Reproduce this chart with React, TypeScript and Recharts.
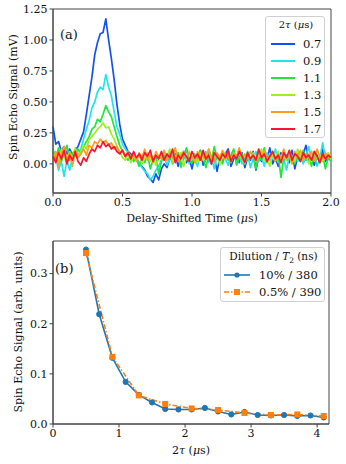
import React from "react";
import { LineChart, Line, XAxis, YAxis, ReferenceArea } from "recharts";

// panel (a): echo traces, one value every 0.02 µs from 0 to 2 µs
const TIME_US = [
  0, 0.02, 0.04, 0.06, 0.08, 0.1, 0.12, 0.14, 0.16, 0.18,
  0.2, 0.22, 0.24, 0.26, 0.28, 0.3, 0.32, 0.34, 0.36, 0.38,
  0.4, 0.42, 0.44, 0.46, 0.48, 0.5, 0.52, 0.54, 0.56, 0.58,
  0.6, 0.62, 0.64, 0.66, 0.68, 0.7, 0.72, 0.74, 0.76, 0.78,
  0.8, 0.82, 0.84, 0.86, 0.88, 0.9, 0.92, 0.94, 0.96, 0.98,
  1.0, 1.02, 1.04, 1.06, 1.08, 1.1, 1.12, 1.14, 1.16, 1.18,
  1.2, 1.22, 1.24, 1.26, 1.28, 1.3, 1.32, 1.34, 1.36, 1.38,
  1.4, 1.42, 1.44, 1.46, 1.48, 1.5, 1.52, 1.54, 1.56, 1.58,
  1.6, 1.62, 1.64, 1.66, 1.68, 1.7, 1.72, 1.74, 1.76, 1.78,
  1.8, 1.82, 1.84, 1.86, 1.88, 1.9, 1.92, 1.94, 1.96, 1.98,
  2.0,
];

const ECHO_07 = [
  0.3, 0.16, 0.18, 0.1, 0.14, 0.08, 0.12, 0.07, 0.11, 0.14,
  0.2, 0.26, 0.4, 0.55, 0.7, 0.88, 0.98, 1.05, 1.06, 1.17,
  1.0, 0.85, 0.68, 0.48, 0.32, 0.2, 0.15, 0.1, 0.08, 0.04,
  0.05, 0.0, -0.02, -0.05, -0.1, -0.12, -0.15, -0.08, -0.13, -0.04,
  0.0, -0.03, 0.05, 0.02, 0.08, -0.02, 0.06, 0.1, 0.01, 0.05,
  -0.04, 0.07, 0.03, 0.11, -0.01, 0.04, 0.09, 0.0, 0.06, -0.06,
  0.05, 0.02, 0.08, 0.12, -0.02, 0.04, 0.07, 0.01, 0.09, -0.03,
  0.05, 0.03, 0.1, -0.05, 0.06, 0.02, 0.08, 0.04, 0.13, 0.0,
  0.05, -0.02, 0.09, 0.03, 0.07, 0.01, 0.11, -0.04, 0.06, 0.02,
  0.08, 0.15, 0.03, 0.05, -0.01, 0.07, 0.04, 0.12, 0.02, 0.06,
  0.04,
];

const ECHO_09 = [
  0.12, 0.05, -0.05, 0.02, -0.1, 0.03, -0.05, 0.05, 0.1, 0.06,
  0.12, 0.2, 0.28, 0.35, 0.45, 0.5, 0.58, 0.62, 0.6, 0.72,
  0.62, 0.55, 0.42, 0.3, 0.24, 0.16, 0.12, 0.09, 0.06, 0.03,
  0.05, 0.01, -0.03, -0.06, -0.08, -0.13, -0.1, -0.05, -0.02, 0.03,
  0.06, -0.01, 0.04, 0.09, 0.02, 0.07, -0.03, 0.05, 0.11, 0.0,
  0.06, 0.03, -0.02, 0.08, 0.04, 0.1, 0.01, 0.06, -0.04, 0.07,
  0.02, 0.09, 0.04, -0.01, 0.06, 0.11, 0.03, 0.07, 0.0, 0.05,
  0.08, -0.03, 0.04, 0.1, 0.02, 0.06, -0.02, 0.09, 0.03, 0.05,
  0.12, 0.01, 0.07, 0.04, -0.05, 0.06, 0.03, 0.1, 0.02, 0.07,
  0.0, 0.06, 0.14, 0.03, 0.08, -0.02, 0.05, 0.17, 0.04, 0.06,
  0.03,
];

const ECHO_11 = [
  0.1, 0.04, 0.13, 0.02, 0.08, 0.15, 0.03, 0.09, 0.06, 0.12,
  0.08, 0.14, 0.18, 0.22, 0.28, 0.3, 0.36, 0.34, 0.4, 0.47,
  0.42, 0.38, 0.3, 0.22, 0.15, 0.1, 0.06, 0.03, 0.07, 0.02,
  0.04, -0.02, 0.05, 0.01, 0.08, -0.04, 0.03, 0.06, -0.08, 0.02,
  0.07, 0.03, 0.1, 0.0, 0.05, 0.09, -0.02, 0.06, 0.13, 0.04,
  0.01, 0.08, 0.03, 0.11, 0.05, -0.03, 0.07, 0.02, 0.14, 0.04,
  0.06, 0.0, 0.09, 0.03, 0.07, 0.12, -0.01, 0.05, 0.08, 0.02,
  0.1, 0.04, 0.06, -0.04, 0.07, 0.03, 0.13, 0.01, 0.06, 0.09,
  0.02, 0.08, -0.11, 0.05, 0.03, 0.1, 0.06, 0.0, 0.08, 0.04,
  0.11, 0.03, 0.06, -0.02, 0.09, 0.05, 0.01, 0.07, -0.04, 0.05,
  0.02,
];

const ECHO_13 = [
  0.05, 0.09, 0.02, 0.12, 0.06, 0.0, 0.1, 0.04, 0.13, 0.07,
  0.1, 0.15, 0.12, 0.2, 0.22, 0.25, 0.28, 0.3, 0.33, 0.29,
  0.3, 0.24, 0.2, 0.14, 0.1, 0.05, 0.03, 0.08, 0.01, 0.06,
  0.03, 0.07, 0.0, 0.05, 0.09, 0.02, 0.06, -0.01, 0.04, 0.08,
  0.03, 0.06, 0.12, 0.01, 0.07, 0.04, 0.09, -0.02, 0.05, 0.1,
  0.04, 0.07, 0.01, 0.09, 0.03, 0.06, 0.12, 0.02, 0.05, 0.08,
  -0.01, 0.06, 0.04, 0.1, 0.02, 0.07, 0.05, 0.11, 0.03, 0.0,
  0.07, 0.04, 0.09, 0.02, 0.06, 0.12, 0.03, 0.05, -0.02, 0.08,
  0.04, 0.1, 0.01, 0.06, 0.03, 0.09, 0.05, 0.02, 0.12, 0.06,
  0.03, 0.08, 0.0, 0.06, 0.1, 0.04, 0.07, 0.02, 0.05, 0.09,
  0.04,
];

const ECHO_15 = [
  0.02, 0.1, -0.03, 0.08, 0.14, 0.03, 0.09, -0.02, 0.11, 0.05,
  0.08, 0.12, 0.07, 0.15, 0.13, 0.18, 0.16, 0.2, 0.17, 0.19,
  0.15, 0.17, 0.12, 0.14, 0.09, 0.11, 0.06, 0.1, 0.04, 0.08,
  0.02, 0.09, 0.05, 0.12, 0.03, 0.07, 0.01, 0.1, 0.06, 0.04,
  0.11, 0.03, 0.08, 0.05, 0.13, 0.02, 0.07, 0.1, 0.04, 0.09,
  0.06, 0.01, 0.1, 0.05, 0.08, 0.03, 0.12, 0.06, 0.02, 0.09,
  0.05, 0.11, 0.04, 0.07, 0.01, 0.09, 0.06, 0.13, 0.03, 0.08,
  0.04, 0.1, 0.06, 0.02, 0.09, 0.05, 0.11, 0.03, 0.07, 0.1,
  0.02, 0.08, 0.05, 0.12, 0.04, 0.07, 0.0, 0.09, 0.06, 0.11,
  0.03, 0.08, 0.05, 0.1, 0.02, 0.12, 0.06, 0.04, 0.09, 0.05,
  0.07,
];

const ECHO_17 = [
  0.06, 0.01, 0.09, 0.04, 0.11, 0.0, 0.07, 0.03, 0.1, 0.02,
  -0.01, 0.05, 0.02, 0.08, 0.12, 0.1, 0.15, 0.13, 0.18, 0.14,
  0.16, 0.12, 0.14, 0.1, 0.08, 0.11, 0.06, 0.09, 0.04, 0.1,
  0.05, 0.08, 0.03, 0.09, 0.06, 0.11, 0.02, 0.07, 0.04, 0.1,
  0.03, 0.08, 0.05, 0.12, 0.01, 0.07, 0.04, 0.09, 0.06, 0.02,
  0.1, 0.05, 0.08, 0.03, 0.11, 0.04, 0.07, 0.0, 0.09, 0.06,
  0.03, 0.08, 0.05, 0.11, 0.02, 0.07, 0.04, 0.1, 0.06, 0.01,
  0.09, 0.04, 0.07, 0.03, 0.12, 0.05, 0.08, 0.02, 0.06, 0.1,
  0.04, 0.07, 0.01, 0.09, 0.05, 0.11, 0.03, 0.08, 0.06, 0.02,
  0.09, 0.05, 0.07, 0.03, 0.1, 0.06, 0.01, 0.08, 0.04, 0.07,
  0.05,
];

const TRACES = [
  { key: "s07", label: "0.7", color: "#1352f0", values: ECHO_07 },
  { key: "s09", label: "0.9", color: "#22e5e8", values: ECHO_09 },
  { key: "s11", label: "1.1", color: "#1ee63c", values: ECHO_11 },
  { key: "s13", label: "1.3", color: "#9cf01e", values: ECHO_13 },
  { key: "s15", label: "1.5", color: "#ff9e1c", values: ECHO_15 },
  { key: "s17", label: "1.7", color: "#ff1234", values: ECHO_17 },
];

// panel (b): echo amplitude vs 2tau
const TAU_10 = [0.5, 0.7, 0.9, 1.1, 1.3, 1.5, 1.7, 1.9, 2.1, 2.3, 2.5, 2.7, 2.9, 3.1, 3.3, 3.5, 3.7, 3.9, 4.1];
const AMP_10 = [0.348, 0.219, 0.132, 0.084, 0.058, 0.043, 0.03, 0.029, 0.029, 0.032, 0.025, 0.019, 0.024, 0.018, 0.017, 0.018, 0.016, 0.017, 0.013];
const TAU_05 = [0.5, 0.9, 1.3, 1.7, 2.1, 2.5, 2.9, 3.3, 3.7, 4.1];
const AMP_05 = [0.341, 0.134, 0.057, 0.04, 0.031, 0.028, 0.022, 0.018, 0.019, 0.016];

const SERIF = '"DejaVu Serif", serif';
const INK = "#111";
const FRAME = "#444";

const traceRows = TIME_US.map((t, i) => {
  const row: Record<string, number> = { t };
  TRACES.forEach((s) => (row[s.key] = s.values[i]));
  return row;
});
const rows10 = TAU_10.map((x, i) => ({ x, y: AMP_10[i] }));
const rows05 = TAU_05.map((x, i) => ({ x, y: AMP_05[i] }));

const tickStyle = { fontSize: 11, fill: INK, fontFamily: SERIF };

function Square(props: any) {
  const { cx, cy, index } = props;
  if (cx == null || cy == null) return <g key={index} />;
  return <rect key={index} x={cx - 3} y={cy - 3} width={6} height={6} fill="#ff7f0e" />;
}

function TauLabel() {
  return (
    <span>
      2<i>τ</i> (<i>μ</i>s)
    </span>
  );
}

export default function App() {
  return (
    <div
      style={{
        position: "absolute",
        left: 0,
        top: 0,
        width: 346,
        height: 464,
        background: "#fff",
        fontFamily: SERIF,
        color: INK,
      }}
    >
      {/* panel (a) */}
      <div style={{ position: "absolute", left: 0, top: 0, width: 346, height: 232 }}>
        <LineChart width={346} height={232} data={traceRows} margin={{ top: 9, right: 15, left: 13, bottom: 9 }}>
          <XAxis
            type="number"
            dataKey="t"
            domain={[0, 2]}
            ticks={[0, 0.5, 1, 1.5, 2]}
            tickFormatter={(v) => v.toFixed(1)}
            height={30}
            tick={tickStyle}
            tickSize={3.5}
            axisLine={{ stroke: FRAME }}
            tickLine={{ stroke: FRAME }}
          />
          <YAxis
            type="number"
            domain={[-0.235, 1.25]}
            ticks={[0, 0.25, 0.5, 0.75, 1, 1.25]}
            tickFormatter={(v) => v.toFixed(2)}
            width={40}
            allowDataOverflow
            tick={tickStyle}
            tickSize={3.5}
            axisLine={{ stroke: FRAME }}
            tickLine={{ stroke: FRAME }}
          />
          {TRACES.map((s) => (
            <Line
              key={s.key}
              dataKey={s.key}
              stroke={s.color}
              strokeWidth={1.7}
              dot={false}
              isAnimationActive={false}
              strokeLinejoin="round"
            />
          ))}
          <ReferenceArea x1={0} x2={2} y1={-0.235} y2={1.25} fill="none" stroke={FRAME} strokeWidth={1} ifOverflow="visible" />
        </LineChart>

        <div style={{ position: "absolute", left: 60, top: 27, fontSize: 13 }}>(a)</div>

        <div
          style={{
            position: "absolute",
            left: 12.5,
            top: 97,
            transform: "translate(-50%, -50%) rotate(-90deg)",
            whiteSpace: "nowrap",
            fontSize: 11,
          }}
        >
          Spin Echo Signal (mV)
        </div>
        <div
          style={{
            position: "absolute",
            left: 192,
            top: 218,
            transform: "translate(-50%, -50%)",
            whiteSpace: "nowrap",
            fontSize: 11,
          }}
        >
          Delay-Shifted Time (<i>μ</i>s)
        </div>

        <div
          style={{
            position: "absolute",
            left: 265,
            top: 15.5,
            width: 60,
            height: 122,
            boxSizing: "border-box",
            border: "1px solid #d0d0d0",
            borderRadius: 3,
            background: "rgba(255,255,255,0.85)",
          }}
        >
          <div style={{ position: "absolute", left: 0, width: 60, top: 2, textAlign: "center", fontSize: 10 }}>
            <TauLabel />
          </div>
          {TRACES.map((s, i) => (
            <div key={s.key} style={{ position: "absolute", left: 0, top: 27 + i * 17 - 8, height: 16 }}>
              <div style={{ position: "absolute", left: 5, top: 7, width: 24, height: 2.5, background: s.color }} />
              <div style={{ position: "absolute", left: 37, top: 0, fontSize: 11.5, lineHeight: "16px" }}>{s.label}</div>
            </div>
          ))}
        </div>
      </div>

      {/* panel (b) */}
      <div style={{ position: "absolute", left: 0, top: 232, width: 346, height: 232 }}>
        <LineChart width={346} height={232} margin={{ top: 9, right: 17, left: 13, bottom: 10 }}>
          <XAxis
            type="number"
            dataKey="x"
            domain={[0, 4.18]}
            ticks={[0, 1, 2, 3, 4]}
            height={30}
            allowDataOverflow
            tick={tickStyle}
            tickSize={3.5}
            axisLine={{ stroke: FRAME }}
            tickLine={{ stroke: FRAME }}
          />
          <YAxis
            type="number"
            domain={[0, 0.365]}
            ticks={[0, 0.1, 0.2, 0.3]}
            tickFormatter={(v) => v.toFixed(1)}
            width={40}
            allowDataOverflow
            tick={tickStyle}
            tickSize={3.5}
            axisLine={{ stroke: FRAME }}
            tickLine={{ stroke: FRAME }}
          />
          <Line
            data={rows10}
            dataKey="y"
            stroke="#1f77b4"
            strokeWidth={1.6}
            dot={{ r: 2.6, fill: "#1f77b4", stroke: "#1f77b4", strokeWidth: 1 }}
            isAnimationActive={false}
          />
          <Line
            data={rows05}
            dataKey="y"
            stroke="#ff7f0e"
            strokeWidth={1.6}
            strokeDasharray="5 2 1.5 2"
            dot={<Square />}
            isAnimationActive={false}
          />
          <ReferenceArea x1={0} x2={4.18} y1={0} y2={0.365} fill="none" stroke={FRAME} strokeWidth={1} ifOverflow="visible" />
        </LineChart>

        <div style={{ position: "absolute", left: 55, top: 29, fontSize: 13 }}>(b)</div>

        <div
          style={{
            position: "absolute",
            left: 18,
            top: 100,
            transform: "translate(-50%, -50%) rotate(-90deg)",
            whiteSpace: "nowrap",
            fontSize: 11,
          }}
        >
          Spin Echo Signal (arb. units)
        </div>
        <div
          style={{
            position: "absolute",
            left: 191,
            top: 218,
            transform: "translate(-50%, -50%)",
            whiteSpace: "nowrap",
            fontSize: 11,
          }}
        >
          <TauLabel />
        </div>

        <div
          style={{
            position: "absolute",
            left: 220,
            top: 15,
            width: 105,
            height: 55,
            boxSizing: "border-box",
            border: "1px solid #d0d0d0",
            borderRadius: 3,
            background: "rgba(255,255,255,0.85)",
          }}
        >
          <div style={{ position: "absolute", left: 0, width: 105, top: 2, textAlign: "center", fontSize: 10.5, whiteSpace: "nowrap" }}>
            Dilution / <i>T</i>
            <sub style={{ fontSize: 7.5 }}>2</sub> (ns)
          </div>
          {[
            { label: "10% / 380", color: "#1f77b4", dashed: false },
            { label: "0.5% / 390", color: "#ff7f0e", dashed: true },
          ].map((e, i) => (
            <div key={e.label} style={{ position: "absolute", left: 0, top: 27 + i * 17 - 8, height: 16 }}>
              <svg style={{ position: "absolute", left: 3, top: 0 }} width={28} height={16}>
                <line
                  x1={0}
                  x2={26}
                  y1={8}
                  y2={8}
                  stroke={e.color}
                  strokeWidth={1.6}
                  strokeDasharray={e.dashed ? "5 2 1.5 2" : undefined}
                />
                {e.dashed ? (
                  <rect x={10} y={5} width={6} height={6} fill={e.color} />
                ) : (
                  <circle cx={13} cy={8} r={2.6} fill={e.color} />
                )}
              </svg>
              <div style={{ position: "absolute", left: 38, top: 0, fontSize: 11.5, lineHeight: "16px", whiteSpace: "nowrap" }}>
                {e.label}
              </div>
            </div>
          ))}
        </div>
      </div>
    </div>
  );
}
